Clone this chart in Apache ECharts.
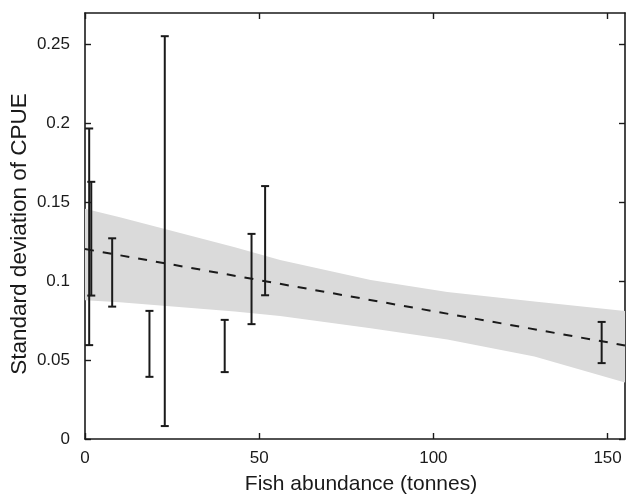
<!DOCTYPE html>
<html>
<head>
<meta charset="utf-8">
<script src="https://cdn.jsdelivr.net/npm/echarts@6/dist/echarts.min.js"></script>
<style>html,body{margin:0;padding:0;background:#fff}#c{width:627px;height:497px}</style>
</head>
<body>
<div id="c"></div>
<script>
// Error bars: fish abundance (x), lower and upper ends of CPUE standard deviation
const errX    = [1.2,   1.8,   7.8,   18.5,  22.9,  40.1,  47.8,  51.7,  148.3];
const errLow  = [0.0595,0.0909,0.0839,0.0394,0.0082,0.0424,0.0728,0.0911,0.0481];
const errHigh = [0.1968,0.163, 0.1272,0.0812,0.2553,0.0755,0.130, 0.1603,0.0742];

// Fitted trend (dashed line)
const fitX = [0, 155];
const fitY = [0.1204, 0.0593];

// Confidence band
const bandX     = [0,     10,     43,     56,     82,     104,    129,    155];
const bandUpper = [0.146, 0.1405, 0.1215, 0.1135, 0.1008, 0.0932, 0.0871, 0.0812];
const bandLower = [0.088, 0.0867, 0.0808, 0.078,  0.0702, 0.0630, 0.0523, 0.0358];

// Axis ticks
const xTicks = [0, 50, 100, 150];
const yTicks = [0, 0.05, 0.1, 0.15, 0.2, 0.25];

const FONT = '"Liberation Sans", Arial, sans-serif';
const INK = '#1a1a1a';

const chart = echarts.init(document.getElementById('c'), null, {renderer: 'canvas'});

const bandData = bandX.map((x, i) => [x, bandUpper[i], bandLower[i]]);
const errData = errX.map((x, i) => [x, errLow[i], errHigh[i]]);

const axisCommon = {
  type: 'value',
  axisLine: {show: true, onZero: false, lineStyle: {color: INK, width: 1.6}},
  axisTick: {show: true, inside: true, length: 6, lineStyle: {color: INK, width: 1.4}},
  splitLine: {show: false}
};

chart.setOption({
  animation: false,
  backgroundColor: '#ffffff',
  grid: {left: 85, right: 2, top: 13, bottom: 58, containLabel: false, outerBoundsMode: 'none'},
  xAxis: [
    Object.assign({}, axisCommon, {
      position: 'bottom', min: 0, max: 155, interval: 50,
      name: 'Fish abundance (tonnes)', nameLocation: 'middle', nameGap: 35,
      nameMoveOverlap: false,
      nameTextStyle: {fontFamily: FONT, fontSize: 21, color: INK, padding: [0, 0, 0, 12]},
      axisLabel: {fontFamily: FONT, fontSize: 17, color: INK, margin: 11,
        customValues: xTicks},
      axisTick: Object.assign({}, axisCommon.axisTick, {customValues: xTicks})
    }),
    Object.assign({}, axisCommon, {
      position: 'top', min: 0, max: 155, interval: 50,
      axisLabel: {show: false},
      axisTick: Object.assign({}, axisCommon.axisTick, {customValues: xTicks})
    })
  ],
  yAxis: [
    Object.assign({}, axisCommon, {
      position: 'left', min: 0, max: 0.27, interval: 0.05,
      name: 'Standard deviation of CPUE', nameLocation: 'middle', nameGap: 54,
      nameMoveOverlap: false,
      nameTextStyle: {fontFamily: FONT, fontSize: 22.5, color: INK, padding: [0, 16, 0, 0]},
      axisLabel: {fontFamily: FONT, fontSize: 17, color: INK, margin: 15,
        customValues: yTicks},
      axisTick: Object.assign({}, axisCommon.axisTick, {customValues: yTicks})
    }),
    Object.assign({}, axisCommon, {
      position: 'right', min: 0, max: 0.27, interval: 0.05,
      axisLabel: {show: false},
      axisTick: Object.assign({}, axisCommon.axisTick, {customValues: yTicks})
    })
  ],
  series: [
    {
      type: 'custom',
      name: 'band',
      xAxisIndex: 0, yAxisIndex: 0,
      clip: true,
      z: 1,
      data: bandData,
      renderItem: function (params, api) {
        if (params.dataIndex !== 0) return null;
        const pts = [];
        for (let i = 0; i < bandData.length; i++) pts.push(api.coord([bandData[i][0], bandData[i][1]]));
        for (let i = bandData.length - 1; i >= 0; i--) pts.push(api.coord([bandData[i][0], bandData[i][2]]));
        return {
          type: 'polygon',
          shape: {points: pts},
          style: {fill: '#dadada', stroke: null}
        };
      }
    },
    {
      type: 'line',
      name: 'fit',
      xAxisIndex: 0, yAxisIndex: 0,
      z: 2,
      symbol: 'none',
      data: fitX.map((x, i) => [x, fitY[i]]),
      lineStyle: {color: INK, width: 2, type: [9, 9]}
    },
    {
      type: 'custom',
      name: 'errorbars',
      xAxisIndex: 0, yAxisIndex: 0,
      z: 3,
      data: errData,
      renderItem: function (params, api) {
        const x = api.value(0);
        const lo = api.coord([x, api.value(1)]);
        const hi = api.coord([x, api.value(2)]);
        const hw = 4;
        const st = {stroke: INK, lineWidth: 2};
        return {
          type: 'group',
          children: [
            {type: 'line', shape: {x1: lo[0], y1: lo[1], x2: hi[0], y2: hi[1]}, style: st},
            {type: 'line', shape: {x1: lo[0] - hw, y1: lo[1], x2: lo[0] + hw, y2: lo[1]}, style: st},
            {type: 'line', shape: {x1: hi[0] - hw, y1: hi[1], x2: hi[0] + hw, y2: hi[1]}, style: st}
          ]
        };
      }
    }
  ]
});
</script>
</body>
</html>
